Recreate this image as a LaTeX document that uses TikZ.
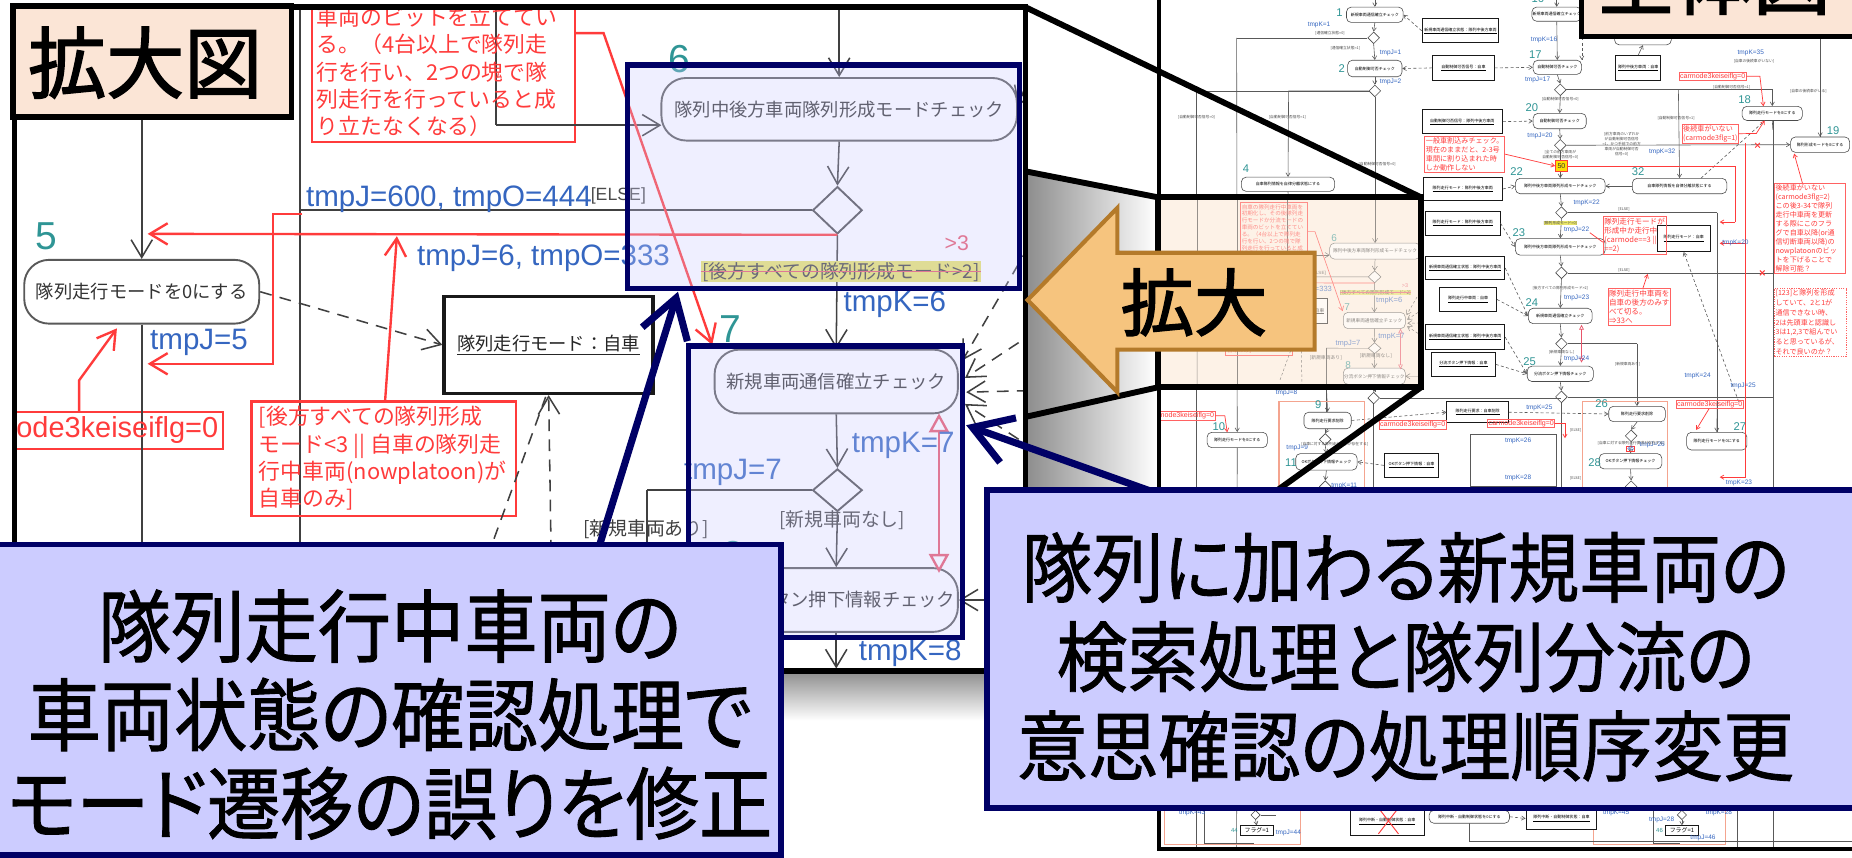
\documentclass[tikz,border=0pt]{standalone}
\usepackage{fontspec}
\setmainfont{Liberation Sans}
\newfontfamily\jp{Noto Sans CJK JP}
\newfontfamily\jpp[RawFeature=+palt,FakeBold=1.2]{Noto Sans CJK JP}
\newfontfamily\jpb[FakeBold=2]{Noto Sans CJK JP}
\usetikzlibrary{arrows.meta,shapes.geometric}
\definecolor{navy}{HTML}{000066}
\definecolor{callfill}{HTML}{CCCCFF}
\definecolor{peach}{HTML}{FBE5D6}
\definecolor{peachlt}{HTML}{FDF2E7}
\definecolor{arrfill}{HTML}{F6C47E}
\definecolor{arrdraw}{HTML}{B47A2A}
\definecolor{tealnum}{HTML}{2F9595}
\definecolor{bluelab}{HTML}{3566C0}
\definecolor{rednote}{HTML}{FF3B3B}
\definecolor{pinkred}{HTML}{E8556A}
\definecolor{salmon}{HTML}{F4A48F}
\definecolor{hl}{HTML}{E8E468}
\tikzset{
  pedge/.style={draw=black!75, line width=1.3pt},
  pdash/.style={draw=black!75, line width=1.3pt, dash pattern=on 10pt off 7pt},
  pnode/.style={draw=black!65, line width=1.6pt, rounded corners=21pt, fill=white, inner sep=0pt, text=black!80, font=\jp\fontsize{15.5}{18}\selectfont},
  pdia/.style={diamond, draw=black!70, line width=1.6pt, fill=white, inner sep=0pt},
  pobj/.style={draw=black!90, line width=3pt, fill=white, inner sep=0pt, text=black!85, font=\jp\fontsize{15.5}{18}\selectfont},
  pred/.style={draw=rednote, line width=2pt},
  pnote/.style={draw=rednote, line width=2pt},
  pdbl/.style={draw=pinkred, line width=2pt, {Triangle[open,length=16pt,width=17pt]}-{Triangle[open,length=16pt,width=17pt]}},
  pstrike/.style={draw=pinkred, line width=1.2pt},
  pnotetext/.style={text=rednote, inner sep=0pt, align=left, anchor=north west, font=\jp\fontsize{18.5}{23}\selectfont},
  pblue/.style={text=bluelab, inner sep=0pt, font=\fontsize{25}{28}\selectfont},
  pnum/.style={text=tealnum, inner sep=0pt, font=\fontsize{33}{36}\selectfont},
  pguard/.style={text=black!75, inner sep=0pt, font=\jp\fontsize{16}{18}\selectfont},
  oedge/.style={draw=black!65, line width=0.5pt},
  odash/.style={draw=black!65, line width=0.5pt, dash pattern=on 2.5pt off 2pt},
  onode/.style={draw=black!70, line width=0.5pt, rounded corners=4pt, fill=white, inner sep=0pt, font=\jp\fontsize{3.4}{4}\selectfont},
  oobj/.style={draw=black!90, line width=0.8pt, fill=white, inner sep=0pt, font=\jp\fontsize{3.4}{4}\selectfont},
  odia/.style={diamond, draw=black!70, line width=0.5pt, fill=white, inner sep=0pt, minimum width=10pt, minimum height=10pt},
  onum/.style={text=tealnum, inner sep=0pt, font=\fontsize{9.5}{10}\selectfont},
  oblue/.style={text=bluelab, inner sep=0pt, anchor=west, font=\fontsize{5.5}{6}\selectfont},
  ored/.style={draw=rednote, line width=0.6pt},
  orednote/.style={draw=rednote!80, line width=0.6pt, text=rednote, inner sep=1pt, align=left, font=\jp\fontsize{6}{7.6}\selectfont},
  oredlat/.style={draw=rednote!80, line width=0.6pt, text=rednote, inner sep=0.8pt, font=\fontsize{6}{6.5}\selectfont},
  oguard/.style={text=black!70, inner sep=0pt, font=\jp\fontsize{3.2}{4.2}\selectfont},
  osal/.style={draw=salmon, line width=1.2pt},
}
\newcommand\PanelContent{%
  \draw[pedge] (254,-100) -- (254,620);
  \draw[pedge] (548,415) -- (548,620);
  \draw[pnote] (264,-70) rectangle (487,120);
  \draw[pnote] (213,340) rectangle (437,437);
  \draw[pnote] (-120,349) rectangle (189,380);
  \draw[pedge] (420,-100) -- (420,106);
  \node[pnode, minimum width=199pt, minimum height=54pt] (n5) at (120,247) {隊列走行モードを0にする};
  \node[pnode, minimum width=301pt, minimum height=53pt] (n6) at (710.5,92.5) {隊列中後方車両隊列形成モードチェック};
  \node[pnode, minimum width=206pt, minimum height=54pt] (n7) at (708,323) {新規車両通信確立チェック};
  \node[pnode, minimum width=206pt, minimum height=54pt] (n8) at (708,508) {分流ボタン押下情報チェック};
  \node[pobj, minimum width=177pt, minimum height=82pt] (ob) at (464.5,292) {\underline{隊列走行モード：自車}};
  \node[pdia, minimum width=42pt, minimum height=40pt] (d1) at (709,178) {};
  \node[pdia, minimum width=42pt, minimum height=36pt] (d2) at (709,415) {};
  \coordinate (t5) at (120,-100);
  \coordinate (t6) at (710.5,-100);
  \draw[pedge,->] (t5) -- (n5.north);
  \draw[pedge] (n5.south) -- (120,620);
  \draw[pedge,->] (420,106) -- (560,106);
  \draw[pedge,->] (t6) -- (n6.north);
  \draw[pedge,->] (n6.south) -- (d1.north);
  \draw[pedge] (d1.west) -- (254,178);
  \draw[pedge,->] (d1.south) -- (n7.north);
  \draw[pedge,->] (n7.south) -- (d2.north);
  \draw[pedge] (d2.west) -- (548,415);
  \draw[pedge,->] (d2.south) -- (n8.north);
  \draw[pedge,->] (n8.south) -- (708,566);
  \draw[pdash,->] (n5.east) -- (ob.west);
  \draw[pdash,->] (469,620) -- (ob.south);
  \draw[pdash] (395,520) -- (462,336);
  \draw[pdash,->] (905,150) -- (815,305);
  \draw[pdash,->] (905,262) -- (817,320);
  \draw[pdash,->] (905,330) -- (818,332);
  \draw[pdash,->] (905,400) -- (817,342);
  \draw[pdash,->] (880,40) -- (862,90);
  \draw[pedge,->] (905,508) -- (n8.east);
  \draw[pred,->] (d1.south) -- (125,198);
  \draw[pred,->] (326,340) -- (336,200);
  \draw[pred,->] (256,181) -- (231,181) -- (231,308) -- (125,308);
  \draw[pred,->] (487,28) -- (511,28) -- (603,292);
  \draw[pred,->] (67,349) -- (67,322) -- (99,278);
  \draw[pdbl] (795,350) -- (795,485);
  \node[pnotetext] (na) at (268,-63) {自車の隊列走行中車両を\\初期化し、その後隊列走\\行モードか分流モードの\\車両のビットを立ててい\\る。（4台以上で隊列走\\行を行い、2つの塊で隊\\列走行を行っていると成\\り立たなくなる）};
  \node[pnotetext] (nb) at (219,344) {[後方すべての隊列形成\\モード<3 || 自車の隊列走\\行中車両(nowplatoon)が\\自車のみ]};
  \node[text=rednote, inner sep=0pt, anchor=east, font=\fontsize{24.5}{26}\selectfont] (nc) at (185,364) {carmode3keiseiflg=0};
  \node[pblue, anchor=base west] (la1) at (259,175) {tmpJ=600, tmpO=444};
  \node[inner sep=0pt, anchor=base west, text=black!70, font=\fontsize{15}{16}\selectfont] (la2) at (500,170) {[ELSE]};
  \node[pblue, anchor=base west] (la3) at (353,225) {tmpJ=6, tmpO=333};
  \node[pblue, anchor=base west] (la4) at (127,296) {tmpJ=5};
  \node[pblue, anchor=base west] (la5) at (714,264) {tmpK=6};
  \node[pblue, anchor=base west] (la6) at (721,383) {tmpK=7};
  \node[pblue, anchor=base west] (la7) at (579,406) {tmpJ=7};
  \node[pblue, anchor=base west] (la8) at (727,559) {tmpK=8};
  \node[pnum] (nu5) at (39,200) {5};
  \node[pnum] (nu6) at (575,50) {6};
  \node[pnum] (nu7) at (618,279) {7};
  \node[pnum] (nu8) at (621,470) {8};
  \node[text=pinkred, inner sep=0pt, font=\fontsize{18}{20}\selectfont] (gt3) at (810,206) {>3};
  \node[pguard, fill=hl, inner sep=1pt] (g1) at (712,230) {[後方すべての隊列形成モード>2]};
  \draw[pstrike] (g1.west) -- (g1.east);
  \node[pguard] (g2) at (547,448) {[新規車両あり]};
  \node[pguard] (g3) at (713,440) {[新規車両なし]};
}
\begin{document}
\begin{tikzpicture}[x=1pt,y=-1pt]
\useasboundingbox (0,0) rectangle (1568,726);
\clip (0,0) rectangle (1568,726);
\fill[white] (0,0) rectangle (1568,726);
% ================= overview =================
\begin{scope}[>={Straight Barb[length=3pt,width=3.6pt]}]
\clip (981,-10) rectangle (1600,719);
\draw[oedge] (1013,77) -- (1013,719);
\draw[oedge] (1013,77) -- (1164,77);
\draw[oedge] (1164,82) -- (1164,332);
\draw[oedge] (1123,300) -- (1123,349);
\draw[oedge] (1501,102) -- (1501,719);
\draw[oedge] (1454,180) -- (1454,366);
\draw[oedge] (1322,336) -- (1322,420);
\draw[oedge] (1381,412) -- (1381,420);
\draw[oedge] (1541,31) -- (1541,116);
\draw[oedge] (1471,435) -- (1471,719);
\draw[oedge] (1245,368) rectangle (1318,412);
\node[onode, minimum width=48pt, minimum height=13pt] (o1) at (1164,12.5) {新規車両通信確立チェック};
\node[onode, minimum width=46pt, minimum height=14pt] (o2) at (1164,58) {自動制御可否チェック};
\node[onode, minimum width=79pt, minimum height=12pt] (o4) at (1090.5,156) {自車隊列情報を自律分離状態にする};
\node[onode, minimum width=42pt, minimum height=12pt] (o16) at (1318,12) {新規車両通信確立チェック};
\node[onode, minimum width=41pt, minimum height=12pt] (o17) at (1318.5,57) {自動制御可否チェック};
\node[onode, minimum width=45pt, minimum height=13pt] (o20) at (1320.5,102.5) {自動制御可否チェック};
\node[onode, minimum width=51pt, minimum height=12pt] (o18) at (1500.5,96) {隊列走行モードを0にする};
\node[onode, minimum width=50pt, minimum height=13pt] (o19) at (1541,122.5) {隊列形成モードを0にする};
\node[onode, minimum width=76pt, minimum height=13pt] (o22) at (1321,157.5) {隊列中後方車両隊列形成モードチェック};
\node[onode, minimum width=80pt, minimum height=13pt] (o32) at (1422,157.5) {自車隊列情報を自律分離状態にする};
\node[onode, minimum width=76pt, minimum height=14pt] (o23) at (1321,209) {隊列中後方車両隊列形成モードチェック};
\node[onode, minimum width=54pt, minimum height=13pt] (o24) at (1321,267.5) {新規車両通信確立チェック};
\node[onode, minimum width=56pt, minimum height=13pt] (o25) at (1321,316.5) {分流ボタン押下情報チェック};
\node[onode, minimum width=48pt, minimum height=13pt] (o26) at (1386,350.5) {隊列走行要求削除};
\node[onode, minimum width=53pt, minimum height=13pt] (o28) at (1380.5,390.5) {OKボタン押下情報チェック};
\node[onode, minimum width=51pt, minimum height=15pt] (o27) at (1453.5,373.5) {隊列走行モードを0にする};
\node[onode, minimum width=40pt, minimum height=14pt] (o9) at (1124,356) {隊列走行要求削除};
\node[onode, minimum width=51pt, minimum height=13pt] (o10) at (1047.5,372.5) {隊列走行モードを0にする};
\node[onode, minimum width=52pt, minimum height=14pt] (o11) at (1123,391) {OKボタン押下情報チェック};
\node[onode, minimum width=48pt, minimum height=14pt] (ohid) at (1391,31) {};
\node[odia] (oD1) at (1163,32) {};
\node[odia] (oD2) at (1164,77) {};
\node[odia] (oD3) at (1321,76) {};
\node[odia] (oD4) at (1321,123) {};
\node[odia] (oD5) at (1322,180) {};
\node[odia] (oD6) at (1322,231) {};
\node[odia] (oD7) at (1322,291) {};
\node[odia] (oD8) at (1322,336) {};
\node[odia] (oD9) at (1163,337) {};
\node[odia] (oD10) at (1122,372) {};
\node[odia] (oD11) at (1381,369) {};
\node[odia] (oD12) at (1122,412) {};
\node[odia] (oD13) at (1381,412) {};
\node[oobj, minimum width=65pt, minimum height=20pt] (ob1) at (1236.5,26) {\underline{新規車両通信確立状態：隊列中後方車両}};
\node[oobj, minimum width=52pt, minimum height=21pt] (ob2) at (1239,57.5) {\underline{自動制御可否信号：自車}};
\node[oobj, minimum width=68pt, minimum height=20pt] (ob3) at (1238,103) {\underline{自動制御可否信号：隊列中後方車両}};
\node[oobj, minimum width=67pt, minimum height=20pt] (ob4) at (1238.5,160) {\underline{隊列走行モード：隊列中後方車両}};
\node[oobj, minimum width=38pt, minimum height=21pt] (ob5) at (1387,57.5) {\underline{隊列中後方車両：自車}};
\node[oobj, minimum width=45pt, minimum height=22pt] (ob6) at (1425.5,202) {\underline{隊列走行モード：自車}};
\node[oobj, minimum width=63pt, minimum height=20pt] (ob7) at (1238.5,189) {\underline{隊列走行モード：隊列中後方車両}};
\node[oobj, minimum width=67pt, minimum height=20pt] (ob8) at (1240.5,227) {\underline{新規車両通信確立状態：隊列中後方車両}};
\node[oobj, minimum width=48pt, minimum height=21pt] (ob9) at (1243,253.5) {\underline{隊列走行中車両：自車}};
\node[oobj, minimum width=67pt, minimum height=21pt] (ob10) at (1240.5,285.5) {\underline{新規車両通信確立状態：隊列中後方車両}};
\node[oobj, minimum width=54pt, minimum height=21pt] (ob11) at (1239,308.5) {\underline{分流ボタン押下情報：自車}};
\node[oobj, minimum width=46pt, minimum height=20pt] (ob12) at (1195,394) {\underline{OKボタン押下情報：自車}};
\node[oobj, minimum width=52pt, minimum height=18pt] (ob13) at (1251,349) {\underline{隊列走行要求：自車削除}};
\draw[oedge,->] (1164,-10) -- (o1.north);
\draw[oedge,->] (o1.south) -- (oD1.north);
\draw[oedge] (oD1.west) -- (1047,32);
\draw[oedge,->] (1047,32) -- (o10.north);
\draw[oedge] (o10.south) -- (1047,719);
\draw[oedge,->] (oD1.south) -- (o2.north);
\draw[oedge,->] (o2.south) -- (oD2.north);
\draw[oedge,->] (oD2.west) -- (1091,77) -- (o4.north);
\draw[oedge] (o4.south) -- (1091,200);
\draw[oedge,->] (1164,328) -- (oD9.north);
\draw[oedge,->] (1123,328) -- (o9.north);
\draw[oedge,->] (o9.south) -- (oD10.north);
\draw[oedge,->] (oD10.south) -- (o11.north);
\draw[oedge,->] (o11.south) -- (oD12.north);
\draw[oedge] (oD9.south) -- (1163,420);
\draw[oedge,->] (1318,-10) -- (o16.north);
\draw[oedge,->] (o16.south) -- (o17.north);
\draw[oedge,->] (o17.south) -- (oD3.north);
\draw[oedge,->] (oD3.east) -- (1500.5,76) -- (o18.north);
\draw[oedge,->] (1421,76) -- (o32.north);
\draw[oedge,->] (oD3.south) -- (o20.north);
\draw[oedge,->] (o20.south) -- (oD4.north);
\draw[oedge,->] (oD4.east) -- (o19.west);
\draw[oedge,->] (oD4.south) -- (o22.north);
\draw[oedge,->] (o32.west) -- (o22.east);
\draw[oedge,->] (o22.south) -- (oD5.north);
\draw[oedge] (oD5.east) -- (1454,180);
\draw[oedge,->] (1454,340) -- (o27.north);
\draw[oedge,->] (oD5.south) -- (o23.north);
\draw[oedge,->] (o23.south) -- (oD6.north);
\draw[oedge] (oD6.east) -- (1501,231);
\draw[oedge,->] (oD6.south) -- (o24.north);
\draw[oedge,->] (o24.south) -- (oD7.north);
\draw[oedge] (oD7.east) -- (1386,291);
\draw[oedge,->] (1386,291) -- (o26.north);
\draw[oedge,->] (oD7.south) -- (o25.north);
\draw[oedge,->] (o25.south) -- (oD8.north);
\draw[oedge,->] (o26.south) -- (oD11.north);
\draw[oedge,->] (oD11.south) -- (o28.north);
\draw[oedge,->] (o28.south) -- (oD13.north);
\draw[oedge,->] (1541,31) -- (o19.north);
\draw[oedge] (o18.south) -- (1501,110);
\draw[oedge,->] (ob5.north) -- (ohid.south);
\draw[oedge] (oD8.east) -- (1501,336);
\draw[oedge] (oD9.east) -- (1322,337);
\draw[odash,->] (ob1.west) -- (o1.east);
\draw[odash,->] (ob2.west) -- (o2.east);
\draw[odash,->] (ob2.east) -- (o17.west);
\draw[odash,->] (ob3.east) -- (o20.west);
\draw[odash,->] (ob4.east) -- (o22.west);
\draw[odash,->] (ob7.east) -- (o23.west);
\draw[odash,->] (ob8.east) -- (o24.west);
\draw[odash,->] (ob9.east) -- (o24.west);
\draw[odash,->] (ob10.east) -- (o25.west);
\draw[odash,->] (ob11.east) -- (o25.west);
\draw[odash,->] (ob12.west) -- (o11.east);
\draw[odash,->] (ob13.east) -- (o26.west);
\draw[odash,->] (o9.east) -- (ob13.west);
\draw[odash] (1492,104) -- (1440,151);
\draw[odash,->] (1472,340) -- (ob6.south);
\draw[odash,->] (o16.south east) -- (o17.north east);
\node[orednote, anchor=north west] (oR1) at (1206,115) {一般車割込みチェック。\\現在のままだと、2-3号\\車間に割り込まれた時\\しか動作しない};
\node[draw=rednote, line width=0.7pt, fill=yellow!80!orange, text=black!80, inner sep=0.6pt, minimum width=10pt, minimum height=9pt, font=\fontsize{6}{6}\selectfont] (o50) at (1322,140.5) {50};
\draw[ored,->] (oR1.east) -- (o50.west);
\draw[ored] (o50.east) -- (1469,140.5) -- (1469,188);
\draw[ored,->] (1469,188) -- (1456,188);
\draw[ored] (1478,121) -- (1478,404);
\draw[ored,->] (1478,206) -- (1456,206);
\draw[ored,->] (1478,404) -- (1456,404);
\node[oredlat] (oR2) at (1450,64.5) {carmode3keiseiflg=0};
\draw[ored,->] (oR2.east) -- (1490,64.5) -- (1493,90);
\node[orednote, anchor=north west, inner sep=0.8pt] (oR3) at (1424,105) {後続車がいない\\(carmode3flg=1)};
\draw[ored,->] (oR3.east) -- (1487,113) -- (1494,102);
\node[orednote, anchor=north west, text width=58pt] (oR4) at (1502,155) {後続車がいない\\(carmode3flg=2)\\この後3-34で隊列\\走行中車両を更新\\する際にこのフラ\\グで自車以降(or通\\信切断車両以降)の\\nowplatoonのビッ\\トを下げることで\\解除可能？};
\draw[ored,->] (1526,155) -- (1519,130);
\node[orednote, anchor=north west, text width=59pt, dash pattern=on 1pt off 1pt, font=\jp\fontsize{6}{8.3}\selectfont] (oR5) at (1502,244) {[123]と隊列を形成\\していて、2と1が\\通信できない時、\\2は先頭車と認識し\\3は1,2,3で組んでい\\ると思っているが、\\それで良いのか？};
\node[orednote, anchor=north west, font=\jp\fontsize{6.4}{7.8}\selectfont] (oR6) at (1357,183) {隊列走行モードが\\形成中か走行中\\(carmode==3 ||\\==2)};
\draw[ored] (1357,205) -- (1346,197);
\node[orednote, anchor=north west, font=\jp\fontsize{6.4}{7.8}\selectfont] (oR7) at (1361,244) {隊列走行中車両を\\自車の後方のみす\\べて切る。\\⇒33へ};
\draw[ored,->] (1391,244) -- (1395,232);
\draw[draw=rednote, line width=0.8pt] (1486,121) -- (1490,125) (1490,121) -- (1486,125);
\draw[draw=rednote, line width=0.8pt] (1490,229) -- (1494,233) (1494,229) -- (1490,233);
\draw[draw=pinkred, line width=0.6pt, {Triangle[open,length=4pt,width=4pt]}-{Triangle[open,length=4pt,width=4pt]}] (1339,275) -- (1339,307);
\draw[osal] (1083,340) rectangle (1155,415);
\draw[osal] (1340,340) rectangle (1412,415);
\node[oredlat, anchor=east] (oR8) at (1029,352) {carmode3keiseiflg=0};
\draw[ored,->] (oR8.east) -- (1037,352) -- (1039,366);
\node[oredlat] (oR9) at (1196,359.5) {carmode3keiseiflg=0};
\node[oredlat] (oR10) at (1288,358.5) {carmode3keiseiflg=0};
\draw[ored,->] (oR10.east) -- (1325,358.5) -- (1325,371);
\node[oredlat] (oR11) at (1447.5,342.5) {carmode3keiseiflg=0};
\draw[ored,->] (1447,346) -- (1436,364);
\node[draw=rednote, line width=0.5pt, text=bluelab, inner sep=0.5pt, font=\fontsize{5}{5}\selectfont] (o45) at (1380.5,380) {45};
\node[onum] (m1) at (1134,11) {1};
\node[onum] (m2) at (1136,58) {2};
\node[onum] (m4) at (1055,143) {4};
\node[onum] (m16) at (1302,-1) {16};
\node[onum] (m17) at (1300,46) {17};
\node[onum] (m20) at (1297,91) {20};
\node[onum] (m18) at (1477,84) {18};
\node[onum] (m19) at (1552,111) {19};
\node[onum] (m22) at (1284,145) {22};
\node[onum] (m32) at (1387,145) {32};
\node[onum] (m23) at (1286,197) {23};
\node[onum] (m24) at (1297,256) {24};
\node[onum] (m25) at (1295,306) {25};
\node[onum] (m26) at (1356,342) {26};
\node[onum] (m27) at (1473,361) {27};
\node[onum] (m28) at (1350,392) {28};
\node[onum] (m9) at (1116,343) {9};
\node[onum] (m10) at (1032,361) {10};
\node[onum] (m11) at (1093,392) {11};
\node[oblue] (b1) at (1107,21) {tmpK=1};
\node[oblue] (b2) at (1168,45) {tmpJ=1};
\node[oblue] (b3) at (1168,69) {tmpJ=2};
\node[oblue] (b4) at (1296,34) {tmpK=16};
\node[oblue] (b5) at (1291,68) {tmpJ=17};
\node[oblue] (b6) at (1293,115) {tmpJ=20};
\node[oblue] (b7) at (1471,45) {tmpK=35};
\node[oblue] (b8) at (1396,129) {tmpK=32};
\node[oblue] (b9) at (1332,172) {tmpK=22};
\node[oblue] (b10) at (1324,195) {tmpJ=22};
\node[oblue] (b11) at (1458,206) {tmpK=20};
\node[oblue] (b12) at (1324,252) {tmpJ=23};
\node[oblue] (b13) at (1324,304) {tmpJ=24};
\node[oblue] (b14) at (1426,318) {tmpK=24};
\node[oblue] (b15) at (1465,327) {tmpJ=25};
\node[oblue] (b16) at (1292,345) {tmpK=25};
\node[oblue] (b17) at (1274,373) {tmpK=26};
\node[oblue] (b18) at (1274,405) {tmpK=28};
\node[oblue] (b19) at (1461,409) {tmpK=23};
\node[oblue] (b20) at (1127,411) {tmpK=11};
\node[oblue] (b21) at (1080,333) {tmpJ=8};
\node[oblue] (b22) at (1089,379) {tmpJ=9};
\node[oblue] (b23) at (1388,377) {tmpJ=26};
\node[oguard] (og1) at (1126,28) {[通信確立状態=0]};
\node[oguard] (og2) at (1139,41) {[通信確立状態=1]};
\node[oguard] (og3) at (1013,99) {[自動制御可否信号=0]};
\node[oguard] (og4) at (1090,99) {[自動制御可否信号=1]};
\node[oguard] (og5) at (1166,139) {[自動制御可否信号=0]};
\node[oguard] (og6) at (1321,84) {[自動制御可否信号=0]};
\node[oguard] (og7) at (1466,74) {[自動制御可否信号=1]};
\node[oguard] (og8) at (1485,52) {[自車の後続車がいない]};
\node[oguard] (og9) at (1531,77) {[自車の後続車がいる]};
\node[oguard] (og10) at (1419,100) {[自動制御可否信号=1]};
\node[oguard, align=center] (og11) at (1321,131) {[全ての前方車両が\\自動制御可否信号=0]};
\node[oguard, align=center] (og12) at (1373,122) {[前方車両のいずれか\\が自動制御可否信号\\=1、かつ手前での前方\\車両が自動制御可否\\信号=0]};
\node[oguard] (og13) at (1375,177) {[ELSE]};
\node[oguard] (og14) at (1375,229) {[ELSE]};
\node[oguard] (og15) at (1321,244) {[後方すべての隊列形成モード>2]};
\node[oguard] (og16) at (1322,298) {[新規車両なし]};
\node[oguard] (og17) at (1378,308) {[新規車両あり]};
\node[oguard] (og18) at (1130,376) {[自車に対する隊列走行要求が存在する]};
\node[oguard] (og19) at (1381,375) {[自車に対する隊列走行要求が存在する]};
\node[oguard, fill=hl] (og20) at (1321,189) {[隊列形成モード=0]};
\node[oguard] (og21) at (1334,364) {[ELSE]};
\node[oguard] (og22) at (1334,405) {[ELSE]};
\draw[osal] (986,686) rectangle (1101,715);
\draw[osal] (1349,686) rectangle (1461,715);
\draw[oedge] (1020,684) -- (1020,714) -- (1062,714);
\draw[oedge] (1400,684) -- (1400,714) -- (1422,714);
\draw[oedge] (1244,697) -- (1244,712) -- (1600,712);
\node[odia, minimum width=8pt, minimum height=8pt] (oD20) at (1063,690) {};
\node[odia, minimum width=8pt, minimum height=8pt] (oD21) at (1424,690) {};
\node[oobj, line width=0.5pt, minimum width=28pt, minimum height=8pt, font=\jp\fontsize{5}{5}\selectfont] (of1) at (1064,703) {フラグ=1};
\node[oobj, line width=0.5pt, minimum width=28pt, minimum height=8pt, font=\jp\fontsize{5}{5}\selectfont] (of2) at (1424,703) {フラグ=1};
\draw[oedge,->] (oD20.south) -- (of1.north);
\draw[oedge,->] (oD21.south) -- (of2.north);
\draw[oedge] (oD20.east) -- (1080,690);
\node[onum, font=\fontsize{5}{5}\selectfont] (m44) at (1045,703) {44};
\node[onum, font=\fontsize{5}{5}\selectfont] (m46) at (1405,703) {46};
\node[oobj, minimum width=63pt, minimum height=23pt] (ob15) at (1174.5,695.5) {\underline{隊列中断・自動制御状態：自車}};
\draw[draw=rednote, line width=0.8pt] (1167,684) -- (1184,706) (1184,684) -- (1167,706);
\node[onode, minimum width=68pt, minimum height=11pt] (o40) at (1244,691.5) {隊列中断・自動制御状態を0にする};
\node[oobj, minimum width=60pt, minimum height=18pt] (ob16) at (1322,693) {\underline{隊列中断・自動制御状態：自車}};
\draw[odash,->] (o40.east) -- (ob16.west);
\node[oblue] (b30) at (998,688) {tmpK=43};
\node[oblue] (b31) at (1080,705) {tmpJ=44};
\node[oblue] (b32) at (1396,694) {tmpJ=28};
\node[oblue] (b33) at (1357,688) {tmpK=45};
\node[oblue] (b34) at (1444,688) {tmpK=28};
\node[oblue] (b35) at (1431,709) {tmpJ=46};
\end{scope}
% ================= peach mini region =================
\begin{scope}
\clip (980,167) rectangle (1203,328);
\fill[peachlt] (980,167) rectangle (1203,328);
\begin{scope}[shift={(983,189)}, scale=0.255, every node/.append style={transform shape},
  >={Straight Barb[length=3.6pt,width=4.4pt]},
  pedge/.append style={line width=0.4pt},
  pdash/.append style={line width=0.4pt, dash pattern=on 2.2pt off 1.8pt},
  pnode/.append style={line width=0.45pt, rounded corners=4pt},
  pdia/.append style={line width=0.45pt},
  pobj/.append style={line width=0.8pt},
  pred/.append style={line width=0.55pt},
  pnote/.append style={line width=0.55pt},
  pstrike/.append style={line width=0.4pt},
  pdbl/.append style={line width=0.55pt, {Triangle[open,length=4pt,width=4pt]}-{Triangle[open,length=4pt,width=4pt]}}]
\PanelContent
\end{scope}
\fill[peachlt, opacity=0.45] (980,167) rectangle (1203,328);
\end{scope}
% ================= shadows =================
\shade[left color=black!45, right color=white] (868,145) -- (980,167) -- (980,568) -- (868,568) -- cycle;
\shade[top color=black!45, bottom color=white] (661,568) rectangle (980,610);
\draw[line width=3.5pt] (981,-5) -- (981,719) -- (1600,719);
% ================= enlarged panel =================
\begin{scope}
\clip (12,6) rectangle (868,568);
\fill[white] (12,6) rectangle (868,568);
\begin{scope}[>={Straight Barb[length=15pt,width=18pt]}]
\PanelContent
\end{scope}
\draw[navy, line width=4.5pt, fill=callfill, fill opacity=0.3] (531,55) rectangle (863,244);
\draw[navy, line width=4.5pt, fill=callfill, fill opacity=0.3] (583,293) rectangle (815,540);
\end{scope}
\draw[line width=4.5pt] (12,6) rectangle (868,568);
\draw[line width=5pt] (868,6) -- (1203,167);
\draw[line width=5pt] (868,145) -- (980,167);
\draw[line width=5pt] (868,353) -- (980,328);
\draw[line width=5pt] (1203,328) -- (868,568);
\draw[line width=5pt] (980,167) rectangle (1203,328);
\draw[fill=arrfill, draw=arrdraw, line width=3.5pt, line join=miter] (870,254) -- (946,176) -- (946,214) -- (1113,214) -- (1113,296) -- (946,296) -- (946,332) -- cycle;
\node[inner sep=0pt, font=\jpb\fontsize{62}{62}\selectfont] (kd) at (1011,256) {拡大};
\draw[fill=peach, line width=4.5pt] (11,5) rectangle (247,99);
\node[inner sep=0pt, font=\jpb\fontsize{66}{66}\selectfont] (lk) at (123,53) {拡大図};
\draw[fill=peach, line width=4.5pt] (1339,-70) rectangle (1600,31);
\node[inner sep=0pt, font=\jpb\fontsize{66}{66}\selectfont] (lz) at (1451,-18) {全体図};
% ================= callouts =================
\draw[navy, line width=6pt, -{Straight Barb[length=32pt,width=40pt]}] (505,470) -- (574,247);
\draw[navy, line width=6pt, -{Straight Barb[length=32pt,width=40pt]}] (1000,425) -- (818,360);
\draw[navy, fill=callfill, line width=5pt] (-10,461) rectangle (661,724);
\node[inner sep=0pt, align=center, yscale=1.08, transform shape, font=\jpp\fontsize{62}{69.5}\selectfont] (c1) at (330,605) {隊列走行中車両の\\車両状態の確認処理で\\モード遷移の誤りを修正};
\draw[navy, fill=callfill, line width=5pt] (836,415) rectangle (1600,684);
\node[inner sep=0pt, align=center, yscale=1.08, transform shape, font=\jpp\fontsize{60}{70}\selectfont] (c2) at (1190,556) {隊列に加わる新規車両の\\検索処理と隊列分流の\\意思確認の処理順序変更};
\end{tikzpicture}
\end{document}
